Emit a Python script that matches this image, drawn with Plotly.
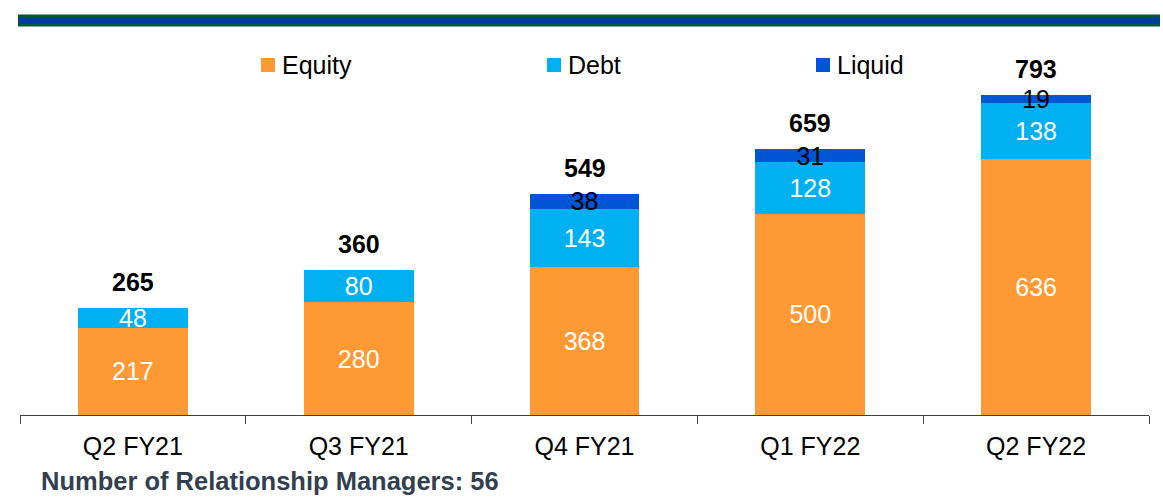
import plotly.graph_objects as go

# Quarterly AUM split by asset class
quarters = ["Q2 FY21", "Q3 FY21", "Q4 FY21", "Q1 FY22", "Q2 FY22"]
equity = [217, 280, 368, 500, 636]
debt = [48, 80, 143, 128, 138]
liquid = [None, None, 38, 31, 19]
totals = [265, 360, 549, 659, 793]

series_names = ["Equity", "Debt", "Liquid"]
series_colors = ["#FF9933", "#00B0F0", "#0055D4"]
label_colors = ["white", "white", "black"]
footnote = "Number of Relationship Managers: 56"

W, H = 1163, 504
M_L, M_R, M_T, M_B = 20, 14, 40, 89
PW, PH = W - M_L - M_R, H - M_T - M_B
FONT = "Arial, Liberation Sans, sans-serif"


def px_x(px):
    return (px - M_L) / PW


def px_y(py):
    return (H - M_B - py) / PH


fig = go.Figure()
for name, vals, col, lcol in zip(series_names, [equity, debt, liquid],
                                 series_colors, label_colors):
    fig.add_trace(go.Bar(
        x=quarters, y=vals, name=name, marker=dict(color=col, line=dict(width=0)),
        text=[("" if v is None else str(v)) for v in vals],
        textposition="inside", insidetextanchor="middle", constraintext="none",
        textangle=0,
        textfont=dict(family=FONT, size=25, color=lcol),
        showlegend=False, hoverinfo="skip",
    ))

annotations = []
# bold totals above each stack
for q, t in zip(quarters, totals):
    annotations.append(dict(
        x=q, y=t, xref="x", yref="y", text=f"<b>{t}</b>", showarrow=False,
        yanchor="bottom", yshift=10,
        font=dict(family=FONT, size=25, color="black"),
    ))

# custom legend
shapes = []
legend_x = [261, 547, 816]
for lx, name, col in zip(legend_x, series_names, series_colors):
    shapes.append(dict(type="rect", xref="paper", yref="paper",
                       x0=px_x(lx), x1=px_x(lx + 14), y0=px_y(72), y1=px_y(58),
                       fillcolor=col, line=dict(width=0)))
    annotations.append(dict(
        x=px_x(lx + 19), y=px_y(65), xref="paper", yref="paper", text=name,
        showarrow=False, xanchor="left", yanchor="middle",
        font=dict(family=FONT, size=25, color="black"),
    ))

# header band
shapes.append(dict(type="rect", xref="paper", yref="paper",
                   x0=px_x(18), x1=px_x(1160), y0=px_y(26.5), y1=px_y(14.5),
                   fillcolor="#00583A", line=dict(width=0), layer="above"))
shapes.append(dict(type="rect", xref="paper", yref="paper",
                   x0=px_x(18), x1=px_x(1160), y0=px_y(24), y1=px_y(17),
                   fillcolor="#003F98", line=dict(width=0), layer="above"))

# footnote
annotations.append(dict(
    x=px_x(39), y=px_y(481), xref="paper", yref="paper", text=f"<b>{footnote}</b>",
    showarrow=False, xanchor="left", yanchor="middle",
    font=dict(family=FONT, size=25.5, color="#333F4F"),
))

fig.update_layout(
    width=W, height=H, barmode="stack", bargap=0.513,
    margin=dict(l=M_L, r=M_R, t=M_T, b=M_B),
    paper_bgcolor="white", plot_bgcolor="white",
    xaxis=dict(showline=True, linecolor="#404040", linewidth=1,
               ticks="outside", tickson="boundaries", ticklen=8,
               ticklabelstandoff=9,
               tickcolor="#404040", tickfont=dict(family=FONT, size=25, color="black"),
               showgrid=False, fixedrange=True),
    yaxis=dict(visible=False, range=[0, PH / 0.403], fixedrange=True),
    annotations=annotations, shapes=shapes,
    showlegend=False,
)

fig.write_html("out.html", config={"displayModeBar": False})
